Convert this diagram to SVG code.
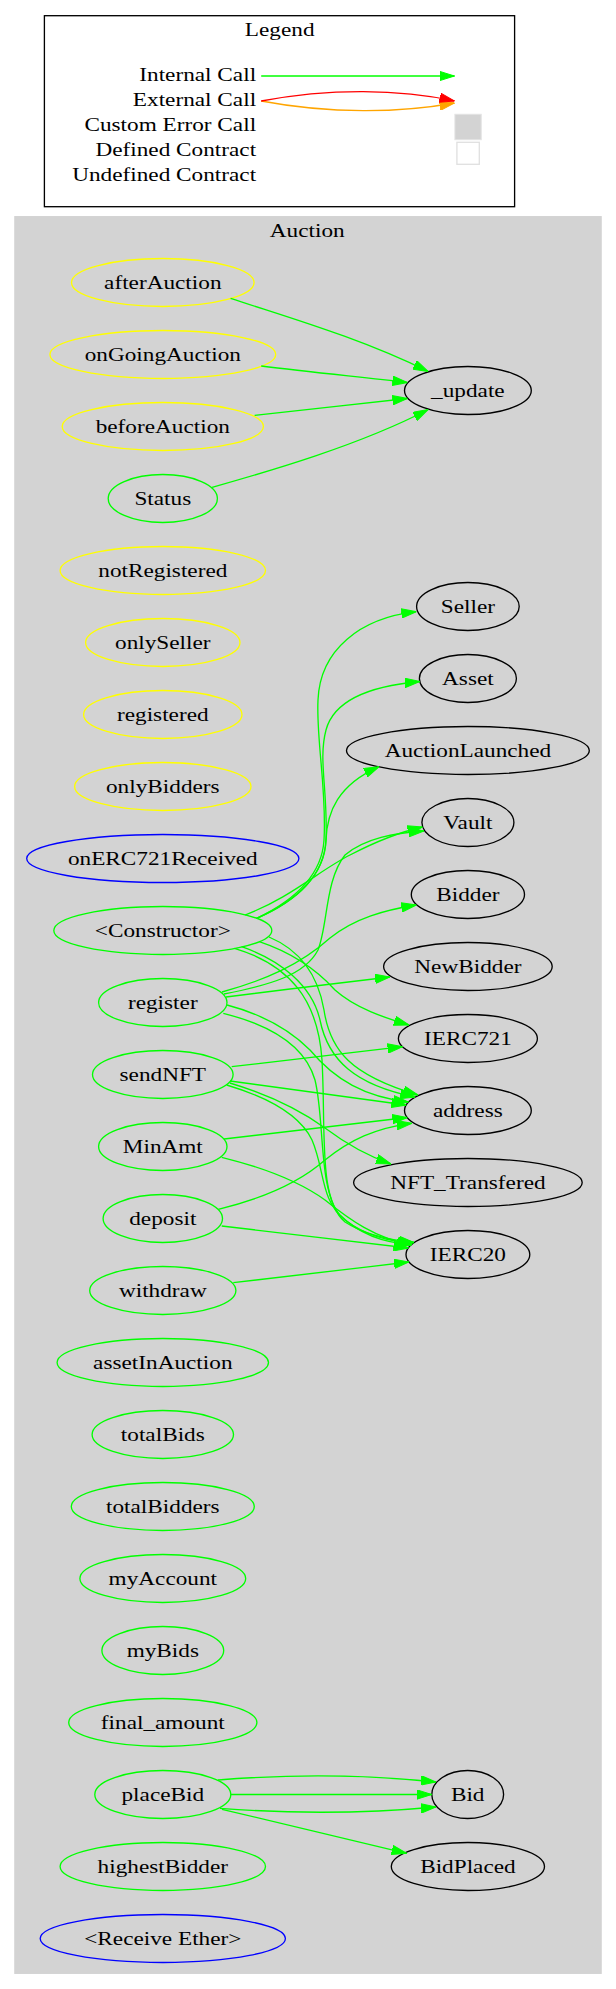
<svg xmlns="http://www.w3.org/2000/svg" width="616" height="1989" viewBox="0 0 616 1989">
<style>
text{font-family:"Liberation Serif","Times New Roman",serif;font-size:18.67px;fill:#000;text-anchor:middle}
text.r{text-anchor:end}
ellipse{fill:none;stroke-width:1.33}
.y{stroke:#ffff00}.g{stroke:#00ff00}.b{stroke:#0000ff}.k{stroke:#000}
#edges path{fill:none;stroke:#00ff00;stroke-width:1.33;marker-end:url(#ag)}
</style>
<defs>
<marker id="ag" viewBox="0 0 15 10" refX="15" refY="5" markerWidth="15" markerHeight="10" orient="auto" markerUnits="userSpaceOnUse"><path d="M0,0.3 L15,5 L0,9.7z" fill="#00ff00" stroke="#00ff00" stroke-width="1"/></marker>
<marker id="ar" viewBox="0 0 15 10" refX="15" refY="5" markerWidth="15" markerHeight="10" orient="auto" markerUnits="userSpaceOnUse"><path d="M0,0.3 L15,5 L0,9.7z" fill="#ff0000" stroke="#ff0000" stroke-width="1"/></marker>
<marker id="ao" viewBox="0 0 15 10" refX="15" refY="5" markerWidth="15" markerHeight="10" orient="auto" markerUnits="userSpaceOnUse"><path d="M0,0.3 L15,5 L0,9.7z" fill="#ffa500" stroke="#ffa500" stroke-width="1"/></marker>
</defs>
<rect x="0" y="0" width="616" height="1989" fill="#fff"/>
<g id="legend">
<rect x="44.4" y="15.7" width="470.2" height="191" fill="#fff" stroke="#000" stroke-width="1.33"/>
<text transform="translate(279.7 36) scale(1.245 1)">Legend</text>
<text class="r" transform="translate(256.1 81) scale(1.245 1)">Internal Call</text>
<text class="r" transform="translate(256.1 106) scale(1.245 1)">External Call</text>
<text class="r" transform="translate(256.1 131) scale(1.245 1)">Custom Error Call</text>
<text class="r" transform="translate(256.1 156) scale(1.245 1)">Defined Contract</text>
<text class="r" transform="translate(256.1 181) scale(1.245 1)">Undefined Contract</text>
<path d="M261.2,76 L454.5,76" fill="none" stroke="#00ff00" stroke-width="1.33" marker-end="url(#ag)"/>
<path d="M261.2,101 C330,114 400,113 454.5,103" fill="none" stroke="#ffa500" stroke-width="1.33" marker-end="url(#ao)"/>
<path d="M261.2,101 C330,88 400,89 454.5,101" fill="none" stroke="#ff0000" stroke-width="1.33" marker-end="url(#ar)"/>
<rect x="454.9" y="114.3" width="26.3" height="25.4" fill="#d3d3d3" stroke="#e3e3e3" stroke-width="1"/>
<rect x="456.9" y="142.3" width="22.4" height="22" fill="#fff" stroke="#e0e0e0" stroke-width="1.33"/>
</g>
<g id="cluster_Auction">
<rect x="14.9" y="216.7" width="586.2" height="1756.6" fill="#d3d3d3" stroke="#d3d3d3" stroke-width="1.33"/>
<text transform="translate(307.2 237.3) scale(1.245 1)">Auction</text>
</g>
<g id="n_afterAuction"><ellipse class="y" cx="162.8" cy="282.5" rx="91.3" ry="24"/><text transform="translate(162.8 288.5) scale(1.245 1)">afterAuction</text></g>
<g id="n_onGoingAuction"><ellipse class="y" cx="162.8" cy="354.5" rx="112.9" ry="24"/><text transform="translate(162.8 360.5) scale(1.245 1)">onGoingAuction</text></g>
<g id="n_beforeAuction"><ellipse class="y" cx="162.8" cy="426.5" rx="100.6" ry="24"/><text transform="translate(162.8 432.5) scale(1.245 1)">beforeAuction</text></g>
<g id="n_Status"><ellipse class="g" cx="162.8" cy="498.5" rx="54.6" ry="24"/><text transform="translate(162.8 504.5) scale(1.245 1)">Status</text></g>
<g id="n_notRegistered"><ellipse class="y" cx="162.8" cy="570.5" rx="102.7" ry="24"/><text transform="translate(162.8 576.5) scale(1.245 1)">notRegistered</text></g>
<g id="n_onlySeller"><ellipse class="y" cx="162.8" cy="642.5" rx="77.2" ry="24"/><text transform="translate(162.8 648.5) scale(1.245 1)">onlySeller</text></g>
<g id="n_registered"><ellipse class="y" cx="162.8" cy="714.5" rx="79.2" ry="24"/><text transform="translate(162.8 720.5) scale(1.245 1)">registered</text></g>
<g id="n_onlyBidders"><ellipse class="y" cx="162.8" cy="786.5" rx="88.2" ry="24"/><text transform="translate(162.8 792.5) scale(1.245 1)">onlyBidders</text></g>
<g id="n_onERC721Received"><ellipse class="b" cx="162.8" cy="858.5" rx="136.1" ry="24"/><text transform="translate(162.8 864.5) scale(1.245 1)">onERC721Received</text></g>
<g id="n_Constructor"><ellipse class="g" cx="162.8" cy="930.5" rx="109" ry="24"/><text transform="translate(162.8 936.5) scale(1.245 1)">&lt;Constructor&gt;</text></g>
<g id="n_register"><ellipse class="g" cx="162.8" cy="1002.5" rx="64.2" ry="24"/><text transform="translate(162.8 1008.5) scale(1.245 1)">register</text></g>
<g id="n_sendNFT"><ellipse class="g" cx="162.8" cy="1074.5" rx="70.3" ry="24"/><text transform="translate(162.8 1080.5) scale(1.245 1)">sendNFT</text></g>
<g id="n_MinAmt"><ellipse class="g" cx="162.8" cy="1146.5" rx="64.2" ry="24"/><text transform="translate(162.8 1152.5) scale(1.245 1)">MinAmt</text></g>
<g id="n_deposit"><ellipse class="g" cx="162.8" cy="1218.5" rx="59.7" ry="24"/><text transform="translate(162.8 1224.5) scale(1.245 1)">deposit</text></g>
<g id="n_withdraw"><ellipse class="g" cx="162.8" cy="1290.5" rx="73.1" ry="24"/><text transform="translate(162.8 1296.5) scale(1.245 1)">withdraw</text></g>
<g id="n_assetInAuction"><ellipse class="g" cx="162.8" cy="1362.5" rx="105.7" ry="24"/><text transform="translate(162.8 1368.5) scale(1.245 1)">assetInAuction</text></g>
<g id="n_totalBids"><ellipse class="g" cx="162.8" cy="1434.5" rx="70.7" ry="24"/><text transform="translate(162.8 1440.5) scale(1.245 1)">totalBids</text></g>
<g id="n_totalBidders"><ellipse class="g" cx="162.8" cy="1506.5" rx="91.5" ry="24"/><text transform="translate(162.8 1512.5) scale(1.245 1)">totalBidders</text></g>
<g id="n_myAccount"><ellipse class="g" cx="162.8" cy="1578.5" rx="82.9" ry="24"/><text transform="translate(162.8 1584.5) scale(1.245 1)">myAccount</text></g>
<g id="n_myBids"><ellipse class="g" cx="162.8" cy="1650.5" rx="60.9" ry="24"/><text transform="translate(162.8 1656.5) scale(1.245 1)">myBids</text></g>
<g id="n_final_amount"><ellipse class="g" cx="162.8" cy="1722.5" rx="94.1" ry="24"/><text transform="translate(162.8 1728.5) scale(1.245 1)">final_amount</text></g>
<g id="n_placeBid"><ellipse class="g" cx="162.8" cy="1794.5" rx="68" ry="24"/><text transform="translate(162.8 1800.5) scale(1.245 1)">placeBid</text></g>
<g id="n_highestBidder"><ellipse class="g" cx="162.8" cy="1866.5" rx="102.7" ry="24"/><text transform="translate(162.8 1872.5) scale(1.245 1)">highestBidder</text></g>
<g id="n_receive"><ellipse class="b" cx="162.8" cy="1938.5" rx="122.6" ry="24"/><text transform="translate(162.8 1944.5) scale(1.245 1)">&lt;Receive Ether&gt;</text></g>
<g id="n__update"><ellipse class="k" cx="467.9" cy="390.5" rx="63.4" ry="24"/><text transform="translate(467.9 396.5) scale(1.245 1)">_update</text></g>
<g id="n_Seller"><ellipse class="k" cx="467.9" cy="606.5" rx="51.3" ry="24"/><text transform="translate(467.9 612.5) scale(1.245 1)">Seller</text></g>
<g id="n_Asset"><ellipse class="k" cx="467.9" cy="678.5" rx="48.5" ry="24"/><text transform="translate(467.9 684.5) scale(1.245 1)">Asset</text></g>
<g id="n_AuctionLaunched"><ellipse class="k" cx="467.9" cy="750.5" rx="121.4" ry="24"/><text transform="translate(467.9 756.5) scale(1.245 1)">AuctionLaunched</text></g>
<g id="n_Vault"><ellipse class="k" cx="467.9" cy="822.5" rx="46" ry="24"/><text transform="translate(467.9 828.5) scale(1.245 1)">Vault</text></g>
<g id="n_Bidder"><ellipse class="k" cx="467.9" cy="894.5" rx="56.6" ry="24"/><text transform="translate(467.9 900.5) scale(1.245 1)">Bidder</text></g>
<g id="n_NewBidder"><ellipse class="k" cx="467.9" cy="966.5" rx="84.3" ry="24"/><text transform="translate(467.9 972.5) scale(1.245 1)">NewBidder</text></g>
<g id="n_IERC721"><ellipse class="k" cx="467.9" cy="1038.5" rx="69.5" ry="24"/><text transform="translate(467.9 1044.5) scale(1.245 1)">IERC721</text></g>
<g id="n_address"><ellipse class="k" cx="467.9" cy="1110.5" rx="63.4" ry="24"/><text transform="translate(467.9 1116.5) scale(1.245 1)">address</text></g>
<g id="n_NFT_Transfered"><ellipse class="k" cx="467.9" cy="1182.5" rx="114.3" ry="24"/><text transform="translate(467.9 1188.5) scale(1.245 1)">NFT_Transfered</text></g>
<g id="n_IERC20"><ellipse class="k" cx="467.9" cy="1254.5" rx="61.9" ry="24"/><text transform="translate(467.9 1260.5) scale(1.245 1)">IERC20</text></g>
<g id="n_Bid"><ellipse class="k" cx="467.7" cy="1794.5" rx="35.9" ry="24"/><text transform="translate(467.7 1800.5) scale(1.245 1)">Bid</text></g>
<g id="n_BidPlaced"><ellipse class="k" cx="467.9" cy="1866.5" rx="76.6" ry="24"/><text transform="translate(467.9 1872.5) scale(1.245 1)">BidPlaced</text></g>
<g id="edges">
<path d="M230.6,298.3 C290,318 360,338 428.2,371.5"/>
<path d="M261.2,366 C310,372 360,377 407.4,382.5"/>
<path d="M254.6,415.3 C300,410 360,404 407.4,398.5"/>
<path d="M212.1,487.3 C270,471 360,445 428.2,409.5"/>
<path d="M256.7,918.3 C295,900 322,875 324,840 C327,790 316,740 318,700 C320,650 360,618 416.4,611.7"/>
<path d="M256.7,918.3 C298,900 324,876 326,840 C328,790 318,760 326,730 C334,700 370,686 420,681.5"/>
<path d="M256.7,918.3 C300,900 325,872 326,840 C327,812 338,785 379.1,766.7"/>
<path d="M245,915 C290,898 320,870 350,855 C375,842 400,832 422.5,827"/>
<path d="M224,994 C270,985 305,975 318,950 C328,925 325,880 345,855 C365,838 395,833 424,831"/>
<path d="M222,992 C265,980 300,965 330,938 C355,918 385,910 416.4,905"/>
<path d="M226,997 C280,990 340,983 390,977"/>
<path d="M259.3,941.7 C290,952 315,968 335,990 C355,1008 385,1018 409,1025"/>
<path d="M269,937 C300,950 318,975 324,1010 C330,1050 350,1075 418,1095"/>
<path d="M241.6,946.7 C280,960 312,985 320,1020 C328,1060 355,1085 415,1097"/>
<path d="M234.5,948.3 C290,965 318,1000 322,1060 C326,1130 318,1200 345,1222 C365,1235 390,1240 414,1242.5"/>
<path d="M227,1005 C265,1015 290,1030 310,1050 C335,1080 365,1097 408.5,1102"/>
<path d="M223.3,1013.3 C270,1025 305,1045 315,1080 C325,1120 318,1190 340,1215 C360,1235 385,1243 411.6,1244.5"/>
<path d="M231.7,1066.7 C290,1060 350,1053 402.6,1046.7"/>
<path d="M230,1081 C290,1089 350,1097 406.2,1105"/>
<path d="M229.8,1083 C270,1095 300,1110 325,1128 C345,1143 365,1155 391,1164"/>
<path d="M226.7,1085 C270,1098 300,1115 312,1140 C325,1170 320,1200 345,1220 C365,1235 390,1242 414,1242.5"/>
<path d="M224,1139 C290,1131 350,1124 407.3,1117.5"/>
<path d="M221.7,1157.3 C265,1168 300,1182 325,1200 C350,1220 375,1238 411.6,1245"/>
<path d="M218.3,1209.3 C265,1198 300,1182 325,1160 C350,1140 375,1128 411.7,1123.3"/>
<path d="M221.7,1226 C280,1233 350,1241 408.5,1248"/>
<path d="M233.3,1282.7 C290,1276 350,1269 409,1262"/>
<path d="M218,1780 C280,1775 360,1774 436,1782"/>
<path d="M230.8,1794.5 L431.8,1794.5"/>
<path d="M220,1808.3 C280,1813 360,1814 436,1807"/>
<path d="M222,1809.3 C280,1823 340,1838 406.6,1853.3"/>
</g>
</svg>
